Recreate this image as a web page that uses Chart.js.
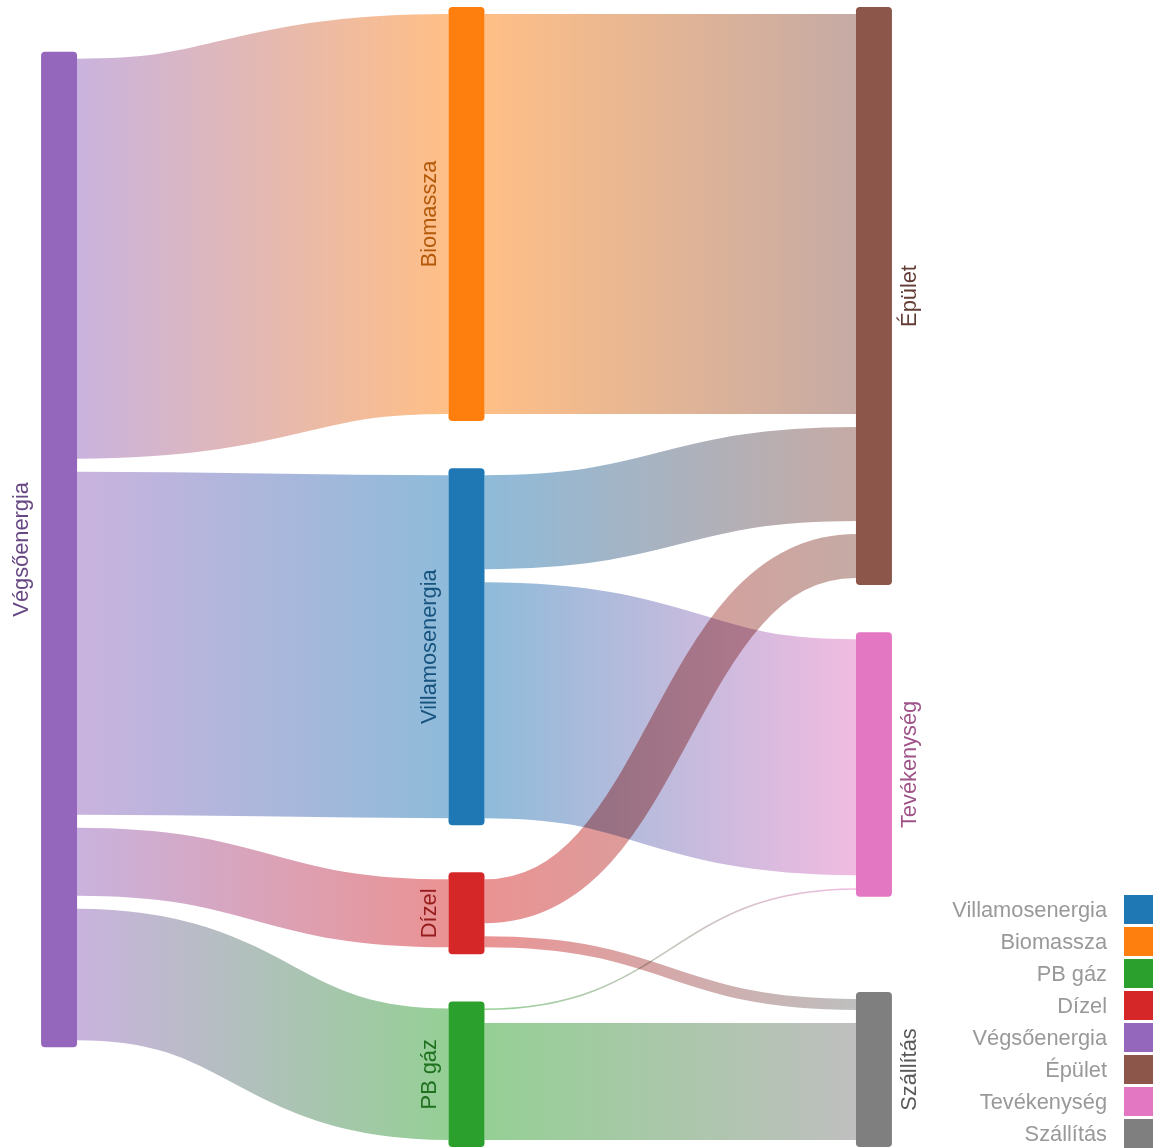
<!doctype html>
<html lang="hu">
  <head>
    <meta charset="UTF-8" />
    <title>Energia Sankey</title>
    <style>
      html, body {
        margin: 0;
        padding: 0;
        background: #fff;
        overflow: hidden;
      }
      #wrap {
        position: relative;
        width: 1162px;
        height: 1148px;
      }
    </style>
  </head>
  <body>
    <div id="wrap"><canvas id="sankey"></canvas></div>

    <script src="https://cdn.jsdelivr.net/npm/chart.js"></script>
    <script>
      // nodes (legend order) and their colours
      const nodeNames = ['Villamosenergia', 'Biomassza', 'PB gáz', 'Dízel', 'Végsőenergia', 'Épület', 'Tevékenység', 'Szállítás'];
      const nodeColors = ['#1f77b4', '#ff7f0e', '#2ca02c', '#d62728', '#9467bd', '#8c564b', '#e377c2', '#7f7f7f'];

      // columns, top to bottom
      const colSource = ['Végsőenergia'];
      const colCarrier = ['Biomassza', 'Villamosenergia', 'Dízel', 'PB gáz'];
      const colUse = ['Épület', 'Tevékenység', 'Szállítás'];

      // flows
      const linkSource = ['Végsőenergia', 'Végsőenergia', 'Végsőenergia', 'Végsőenergia', 'Biomassza', 'Villamosenergia', 'Villamosenergia', 'Dízel', 'Dízel', 'PB gáz', 'PB gáz'];
      const linkTarget = ['Biomassza', 'Villamosenergia', 'Dízel', 'PB gáz', 'Épület', 'Épület', 'Tevékenység', 'Épület', 'Szállítás', 'Tevékenység', 'Szállítás'];
      const linkValue = [400, 330, 55, 118.5, 400, 94, 236, 44, 11, 1.5, 117];

      const LINK_GAP = 13;   // space between flows inside a node
      const NODE_PAD = 7;    // node overhang above/below its flows
      const SPAN = 1140;     // vertical extent in value units
      const NODE_W = 36;     // px

      function darker(hex, k) {
        const f = Math.pow(0.7, k);
        const n = parseInt(hex.slice(1), 16);
        return `rgb(${Math.round((n >> 16) * f)},${Math.round(((n >> 8) & 255) * f)},${Math.round((n & 255) * f)})`;
      }
      function withAlpha(hex, a) {
        const n = parseInt(hex.slice(1), 16);
        return `rgba(${n >> 16},${(n >> 8) & 255},${n & 255},${a})`;
      }

      function buildLayout() {
        const columns = [colSource, colCarrier, colUse];
        const nodes = {};
        nodeNames.forEach((n, i) => (nodes[n] = { name: n, color: nodeColors[i], ins: [], outs: [] }));
        columns.forEach((col, c) => col.forEach((n, k) => { nodes[n].col = c; nodes[n].order = k; }));

        const links = linkValue.map((v, i) => ({
          source: nodes[linkSource[i]],
          target: nodes[linkTarget[i]],
          value: v,
          width: v,
        }));
        links.forEach(l => { l.source.outs.push(l); l.target.ins.push(l); });
        Object.values(nodes).forEach(n => {
          n.outs.sort((a, b) => a.target.order - b.target.order);
          n.ins.sort((a, b) => a.source.order - b.source.order);
        });

        const band = list => list.length ? list.reduce((s, l) => s + l.width, 0) + (list.length - 1) * LINK_GAP : 0;

        // sizes, right to left (a single inflow fills the whole node)
        for (let c = columns.length - 1; c >= 0; c--) {
          columns[c].forEach(name => {
            const n = nodes[name];
            n.band = Math.max(band(n.ins), band(n.outs));
            if (n.ins.length === 1) n.ins[0].width = n.band;
          });
        }
        for (let c = 0; c < columns.length; c++) {
          columns[c].forEach(name => {
            const n = nodes[name];
            n.band = Math.max(band(n.ins), band(n.outs));
            n.h = n.band + 2 * NODE_PAD;
            let yy = NODE_PAD;
            n.outs.forEach(l => { l.relOut = yy + l.width / 2; yy += l.width + LINK_GAP; });
            yy = NODE_PAD;
            n.ins.forEach(l => { l.relIn = yy + l.width / 2; yy += l.width + LINK_GAP; });
          });
        }

        // middle column is justified over the full span
        const mid = colCarrier.map(n => nodes[n]);
        const gap = (SPAN - mid.reduce((s, n) => s + n.h, 0)) / (mid.length - 1);
        let y = 0;
        mid.forEach(n => { n.y = y; y += n.h + gap; });

        const weighted = (list, fn) => list.reduce((s, l) => s + l.width * fn(l), 0) / list.reduce((s, l) => s + l.width, 0);

        // right column stacked from the top, last node sits on the bottom
        const right = colUse.map(n => nodes[n]);
        y = 0;
        right.forEach((n, i) => {
          n.y = i < right.length - 1 ? y : Math.max(y, SPAN - n.h);
          y = n.y + n.h + gap;
        });

        // left column relaxed towards its targets
        colSource.map(n => nodes[n]).forEach(n => {
          const want = weighted(n.outs, l => l.target.y + l.relIn - l.relOut);
          n.y = Math.min(Math.max(want, 0), SPAN - n.h);
        });

        links.forEach(l => {
          l.y0 = l.source.y + l.relOut;
          l.y1 = l.target.y + l.relIn;
        });
        return { nodes: nodeNames.map(n => nodes[n]), links };
      }

      const layout = buildLayout();

      const sankeyPlugin = {
        id: 'sankey',
        afterDatasetsDraw(chart) {
          const { ctx, scales: { x, y } } = chart;
          const px = v => y.getPixelForValue(v);
          const unit = Math.abs(px(1) - px(0));

          ctx.save();
          // flows, multiplied so crossings darken
          ctx.lineCap = 'butt';
          ctx.globalCompositeOperation = 'multiply';
          layout.links.forEach(l => {
            const x0 = x.getPixelForValue(l.source.col) + NODE_W / 2;
            const x1 = x.getPixelForValue(l.target.col) - NODE_W / 2;
            const y0 = px(l.y0);
            const y1 = px(l.y1);
            const xm = (x0 + x1) / 2;
            const grad = ctx.createLinearGradient(x0, 0, x1, 0);
            grad.addColorStop(0, withAlpha(l.source.color, 0.5));
            grad.addColorStop(1, withAlpha(l.target.color, 0.5));
            ctx.strokeStyle = grad;
            ctx.lineWidth = Math.max(1, l.width * unit);
            ctx.beginPath();
            ctx.moveTo(x0, y0);
            ctx.bezierCurveTo(xm, y0, xm, y1, x1, y1);
            ctx.stroke();
          });
          ctx.globalCompositeOperation = 'source-over';

          // nodes
          layout.nodes.forEach(n => {
            const cx = x.getPixelForValue(n.col);
            const top = px(n.y);
            const h = px(n.y + n.h) - top;
            ctx.fillStyle = n.color;
            ctx.beginPath();
            ctx.roundRect(cx - NODE_W / 2, top, NODE_W, h, 4);
            ctx.fill();
          });

          // node labels
          ctx.font = '21.8px "Liberation Sans", Arial, sans-serif';
          ctx.textAlign = 'center';
          ctx.textBaseline = 'middle';
          layout.nodes.forEach(n => {
            const cx = x.getPixelForValue(n.col);
            const lx = n.col < 2 ? cx - NODE_W / 2 - 19 : cx + NODE_W / 2 + 18;
            const ly = px(n.y + n.h / 2);
            ctx.save();
            ctx.translate(lx, ly);
            ctx.rotate(-Math.PI / 2);
            ctx.fillStyle = darker(n.color, 1);
            ctx.fillText(n.name, 0, 0);
            ctx.restore();
          });

          // legend, bottom right
          const box = 29, pitch = 32;
          const boxX = chart.width - 9 - box;
          const firstY = chart.height - (nodeNames.length - 1) * pitch - box;
          ctx.textAlign = 'right';
          nodeNames.forEach((name, i) => {
            const by = firstY + i * pitch;
            ctx.fillStyle = nodeColors[i];
            ctx.fillRect(boxX, by, box, box);
            ctx.fillStyle = '#999';
            ctx.fillText(name, boxX - 17, by + box / 2 + 1);
          });
          ctx.restore();
        },
      };

      new Chart(document.getElementById('sankey'), {
        type: 'scatter',
        data: { datasets: [] },
        options: {
          responsive: true,
          maintainAspectRatio: false,
          animation: false,
          layout: { padding: 0 },
          plugins: { legend: { display: false }, tooltip: { enabled: false } },
          scales: {
            x: { type: 'linear', display: false, min: -0.145, max: 2.707 },
            y: { type: 'linear', display: false, reverse: true, min: -7, max: 1141 },
          },
        },
        plugins: [sankeyPlugin],
      });
    </script>
  </body>
</html>
